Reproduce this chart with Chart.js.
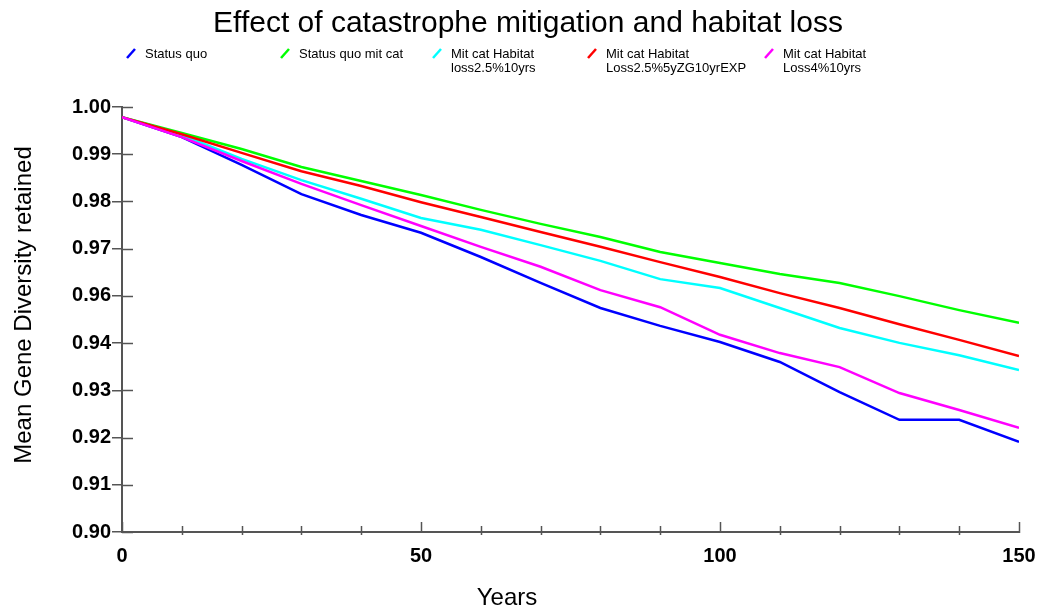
<!DOCTYPE html>
<html>
<head>
<meta charset="utf-8">
<title>Effect of catastrophe mitigation and habitat loss</title>
<script src="https://cdn.jsdelivr.net/npm/chart.js@4.4.1/dist/chart.umd.min.js"></script>
<style>
  html, body { margin: 0; padding: 0; background: #fff; }
  #wrap { width: 1039px; height: 608px; }
</style>
</head>
<body>
<div id="wrap"><canvas id="genChart" width="1039" height="608"></canvas></div>
<script>
// years on the x axis
const years = [0, 10, 20, 30, 40, 50, 60, 70, 80, 90, 100, 110, 120, 130, 140, 150];

// mean gene diversity retained, one list per scenario
const statusQuo   = [0.9976, 0.9929, 0.9864, 0.9795, 0.9746, 0.9704, 0.9647, 0.9586, 0.9527, 0.9485, 0.9447, 0.9400, 0.9329, 0.9264, 0.9264, 0.9212];
const sqMitCat    = [0.9976, 0.9939, 0.9901, 0.9859, 0.9826, 0.9793, 0.9758, 0.9725, 0.9694, 0.9659, 0.9633, 0.9607, 0.9586, 0.9555, 0.9522, 0.9492];
const hab25_10    = [0.9976, 0.9934, 0.9878, 0.9828, 0.9784, 0.9739, 0.9711, 0.9675, 0.9638, 0.9595, 0.9574, 0.9527, 0.9480, 0.9445, 0.9416, 0.9381];
const hab25ZG     = [0.9976, 0.9936, 0.9892, 0.9849, 0.9814, 0.9776, 0.9741, 0.9706, 0.9671, 0.9635, 0.9600, 0.9562, 0.9527, 0.9489, 0.9452, 0.9414];
const hab4_10     = [0.9976, 0.9929, 0.9873, 0.9819, 0.9769, 0.9720, 0.9671, 0.9624, 0.9569, 0.9529, 0.9464, 0.9421, 0.9388, 0.9327, 0.9287, 0.9245];

// tick labels as printed on the original (10 evenly spaced ticks from 0.90 to 1.00)
const yTickLabels = ['0.90', '0.91', '0.92', '0.93', '0.94', '0.96', '0.97', '0.98', '0.99', '1.00'];
const xTickLabels = ['0', '50', '100', '150'];
const xMajor = [0, 50, 100, 150];
const xMinorStep = 10;

const FONT = "'Liberation Sans', Arial, sans-serif";
const AXIS = '#555555';

const yMin = 0.90, yMax = 1.00;
const yTickValues = yTickLabels.map((_, i) => yMin + i * (yMax - yMin) / (yTickLabels.length - 1));

// legend drawn by hand so the two-line labels sit like the original
const legendX = [127, 281, 433, 588, 765];
const legendPlugin = {
  id: 'slashLegend',
  afterDraw(chart) {
    const ctx = chart.ctx;
    ctx.save();
    chart.data.datasets.forEach((ds, i) => {
      const x = legendX[i];
      ctx.strokeStyle = ds.borderColor;
      ctx.lineWidth = 2.5;
      ctx.beginPath();
      ctx.moveTo(x, 58);
      ctx.lineTo(x + 8, 49);
      ctx.stroke();
      ctx.fillStyle = '#000';
      ctx.font = '13px ' + FONT;
      ctx.textBaseline = 'middle';
      ctx.textAlign = 'left';
      const lines = Array.isArray(ds.label) ? ds.label : [ds.label];
      lines.forEach((t, k) => ctx.fillText(t, x + 18, 54 + k * 14));
    });
    ctx.restore();
  }
};

// inner tick marks, minor x ticks and axis titles
const axisExtras = {
  id: 'axisExtras',
  afterDraw(chart) {
    const ctx = chart.ctx;
    const xs = chart.scales.x, ys = chart.scales.y;
    const a = chart.chartArea;
    ctx.save();
    ctx.strokeStyle = AXIS;
    ctx.lineWidth = 1.5;
    yTickValues.forEach(v => {
      const py = Math.round(ys.getPixelForValue(v)) + 0.5;
      ctx.beginPath();
      ctx.moveTo(a.left, py);
      ctx.lineTo(a.left + 11, py);
      ctx.stroke();
    });
    for (let v = xs.min; v <= xs.max; v += xMinorStep) {
      const px = Math.round(xs.getPixelForValue(v)) + 0.5;
      const major = xMajor.includes(v);
      ctx.beginPath();
      ctx.moveTo(px, a.bottom - (major ? 10 : 6));
      ctx.lineTo(px, a.bottom + (major ? 1 : 3));
      ctx.stroke();
    }
    ctx.fillStyle = '#000';
    ctx.font = '24px ' + FONT;
    ctx.textAlign = 'center';
    ctx.textBaseline = 'middle';
    ctx.fillText('Years', 507, 598);
    ctx.translate(24, 305);
    ctx.rotate(-Math.PI / 2);
    ctx.fillText('Mean Gene Diversity retained', 0, 0);
    ctx.restore();
  }
};

const ctx = document.getElementById('genChart').getContext('2d');

const genChart = new Chart(ctx, {
  type: 'line',
  data: {
    labels: years,
    datasets: [{
      label: 'Status quo',
      data: statusQuo,
      borderColor: '#0000FF',
      order: 5
    }, {
      label: 'Status quo mit cat',
      data: sqMitCat,
      borderColor: '#00FF00',
      order: 4
    }, {
      label: ['Mit cat Habitat', 'loss2.5%10yrs'],
      data: hab25_10,
      borderColor: '#00FFFF',
      order: 3
    }, {
      label: ['Mit cat Habitat', 'Loss2.5%5yZG10yrEXP'],
      data: hab25ZG,
      borderColor: '#FF0000',
      order: 2
    }, {
      label: ['Mit cat Habitat', 'Loss4%10yrs'],
      data: hab4_10,
      borderColor: '#FF00FF',
      order: 1
    }]
  },
  options: {
    responsive: false,
    animation: false,
    devicePixelRatio: 1,
    layout: { padding: { left: 37, right: 20, top: 0, bottom: 0 } },
    elements: {
      line: { borderWidth: 2.5, tension: 0, fill: false },
      point: { radius: 0, hoverRadius: 0 }
    },
    plugins: {
      legend: { display: false },
      tooltip: { enabled: false },
      title: {
        display: true,
        text: 'Effect of catastrophe mitigation and habitat loss',
        color: '#000',
        font: { family: FONT, size: 30, weight: 'normal' },
        padding: { top: 6, bottom: 65 }
      }
    },
    scales: {
      x: {
        type: 'linear',
        min: 0,
        max: 150,
        afterBuildTicks: s => { s.ticks = xMajor.map(v => ({ value: v })); },
        afterFit: s => { s.height = 76; s.paddingRight = 0; s.paddingLeft = 0; },
        grid: { display: false, drawTicks: false },
        border: { display: true, color: AXIS, width: 2 },
        ticks: {
          color: '#000',
          padding: 12,
          maxRotation: 0,
          font: { family: FONT, size: 20, weight: 'bold' },
          callback: (v, i) => xTickLabels[i]
        }
      },
      y: {
        min: yMin,
        max: yMax,
        afterBuildTicks: s => { s.ticks = yTickValues.map(v => ({ value: v })); },
        afterFit: s => { s.width = 85; },
        grid: { drawOnChartArea: false, drawTicks: true, tickLength: 10, color: AXIS, lineWidth: 1.5 },
        border: { display: true, color: AXIS, width: 2 },
        ticks: {
          color: '#000',
          padding: 1,
          font: { family: FONT, size: 20, weight: 'bold' },
          callback: (v, i) => yTickLabels[i]
        }
      }
    }
  },
  plugins: [legendPlugin, axisExtras]
});
</script>
</body>
</html>
